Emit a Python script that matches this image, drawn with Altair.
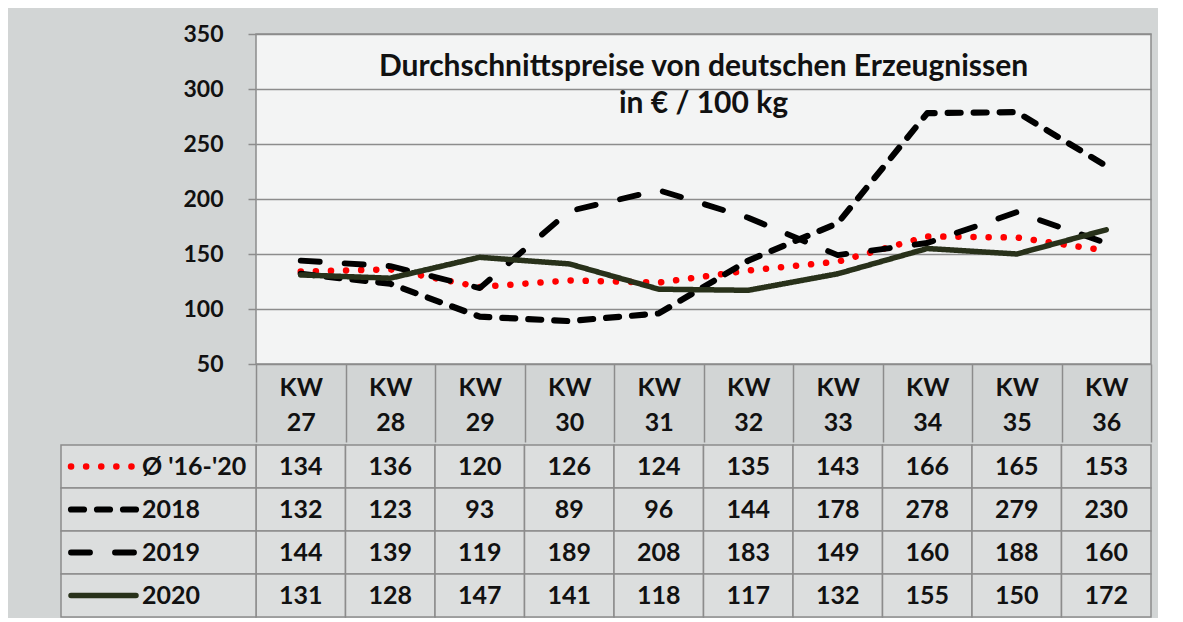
import altair as alt
import pandas as pd

weeks = ["KW 27", "KW 28", "KW 29", "KW 30", "KW 31", "KW 32", "KW 33", "KW 34", "KW 35", "KW 36"]
series = ["Ø '16-'20", "2018", "2019", "2020"]
avg_16_20 = [134, 136, 120, 126, 124, 135, 143, 166, 165, 153]
y2018 = [132, 123, 93, 89, 96, 144, 178, 278, 279, 230]
y2019 = [144, 139, 119, 189, 208, 183, 149, 160, 188, 160]
y2020 = [131, 128, 147, 141, 118, 117, 132, 155, 150, 172]
y_ticks = [50, 100, 150, 200, 250, 300, 350]

colors = ["#ff0000", "#000000", "#000000", "#28311a"]
dashes = [[0.1, 15], [13, 13], [19, 25], [1, 0]]
widths = [6.5, 5.5, 5.5, 6]

FONT = "Lato"
GRID = "#8c8c8c"
CELL = "#dcdede"
TXT = "#111111"

rows = []
for s, vals in zip(series, [avg_16_20, y2018, y2019, y2020]):
    for w, v in zip(weeks, vals):
        rows.append({"series": s, "week": w, "value": v})
df = pd.DataFrame(rows)
lab_df = pd.DataFrame({"series": series})

color_scale = alt.Scale(domain=series, range=colors)
dash_scale = alt.Scale(domain=series, range=dashes)
width_scale = alt.Scale(domain=series, range=widths)
band = alt.Scale(paddingInner=0, paddingOuter=0)

x_axis = alt.Axis(
    orient="bottom", title=None, domain=False, ticks=True, tickBand="extent",
    tickSize=78, tickColor=GRID, tickWidth=1.5,
    labelExpr="split(datum.label, ' ')", labelAngle=0, labelFont=FONT,
    labelFontSize=25, labelFontWeight="bold", labelColor=TXT,
    labelPadding=-67, labelLineHeight=35, labelBaseline="top",
)
y_axis = alt.Axis(
    values=y_ticks, title=None, domain=False, grid=True, gridColor=GRID,
    gridWidth=1.5, tickSize=8, tickColor=GRID, tickWidth=1.5, labelPadding=25,
    labelFont=FONT, labelFontSize=23, labelFontWeight="bold", labelColor=TXT,
)

lines = alt.Chart(df).mark_line(strokeCap="round", strokeJoin="round").encode(
    x=alt.X("week:N", sort=weeks, scale=band, axis=x_axis),
    y=alt.Y("value:Q", scale=alt.Scale(domain=[50, 350], nice=False), axis=y_axis),
    color=alt.Color("series:N", scale=color_scale, legend=None),
    strokeDash=alt.StrokeDash("series:N", scale=dash_scale, legend=None),
    strokeWidth=alt.StrokeWidth("series:O", scale=width_scale, legend=None),
)

top = lines.properties(
    width=895, height=330,
    view=alt.ViewBackground(fill="#f3f4f4", stroke=GRID, strokeWidth=1.5),
    title=alt.TitleParams(
        text=["Durchschnittspreise von deutschen Erzeugnissen", "in € / 100 kg"],
        anchor="middle", font=FONT, fontSize=30, fontWeight="bold", color=TXT,
        lineHeight=37, dy=100,
    ),
)

tbase = alt.Chart(df).encode(
    x=alt.X("week:N", sort=weeks, scale=band, axis=None),
    y=alt.Y("series:N", sort=series, scale=band, axis=None),
)
cells = tbase.mark_rect(fill=CELL, stroke=GRID, strokeWidth=1.5)
vals = tbase.mark_text(font=FONT, fontSize=25, fontWeight="bold", color=TXT).encode(
    text="value:Q"
)

lbase = alt.Chart(lab_df).encode(
    y=alt.Y("series:N", sort=series, scale=band, axis=None),
)
lab_cells = lbase.mark_rect(fill=CELL, stroke=GRID, strokeWidth=1.5).encode(
    x=alt.value(-195), x2=alt.value(0)
)
lab_sym = lbase.mark_rule(strokeCap="round").encode(
    x=alt.value(-185), x2=alt.value(-120),
    color=alt.Color("series:N", scale=color_scale, legend=None),
    strokeDash=alt.StrokeDash("series:N", scale=dash_scale, legend=None),
    strokeWidth=alt.StrokeWidth("series:O", scale=width_scale, legend=None),
)
lab_text = lbase.mark_text(align="left", font=FONT, fontSize=25, fontWeight="bold", color=TXT).encode(
    x=alt.value(-114), text="series:N"
)

table = alt.layer(cells, vals, lab_cells, lab_sym, lab_text).properties(
    width=895, height=172,
    view=alt.ViewBackground(stroke=None),
)

chart = alt.vconcat(top, table, spacing=0).resolve_scale(
    x="independent", y="independent"
).properties(
    background="#d2d5d5",
    padding={"left": 52, "top": 14, "right": 5, "bottom": 0},
)

chart.save("out.html", embed_options={"renderer": "svg", "actions": False})
